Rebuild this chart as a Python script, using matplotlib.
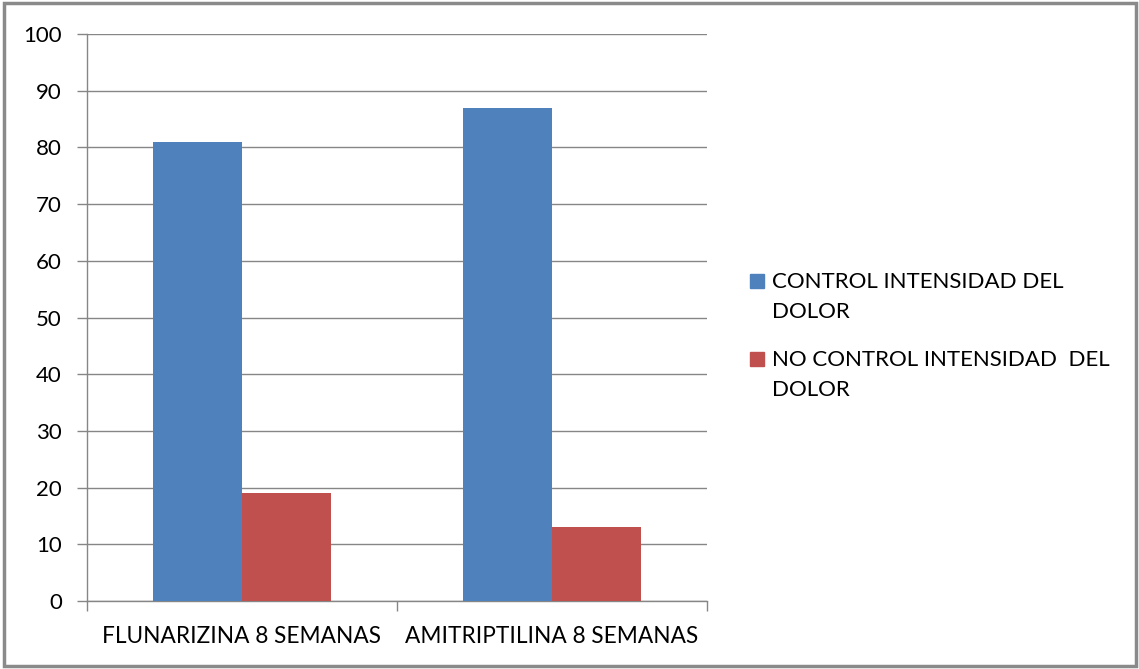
import matplotlib
matplotlib.use("Agg")
import matplotlib.pyplot as plt
from matplotlib.patches import Rectangle
import numpy as np

grupos = ["FLUNARIZINA 8 SEMANAS", "AMITRIPTILINA 8 SEMANAS"]
series = ["CONTROL INTENSIDAD DEL\nDOLOR", "NO CONTROL INTENSIDAD  DEL\nDOLOR"]
control = [81, 87]
no_control = [19, 13]
colores = ["#4F81BD", "#C0504D"]

plt.rcParams['font.family'] = ['Lato', 'DejaVu Sans']
gris = "#868686"

fig = plt.figure(figsize=(11.39, 6.69), dpi=100)
ax = fig.add_axes([87 / 1139, 1 - 601 / 669, 620 / 1139, 567 / 669])

x = np.arange(len(grupos))
ancho = 0.287
ax.bar(x - ancho / 2, control, ancho, color=colores[0], zorder=3)
ax.bar(x + ancho / 2, no_control, ancho, color=colores[1], zorder=3)

ax.set_xlim(-0.5, len(grupos) - 0.5)
ax.set_ylim(0, 100)
ax.set_yticks(range(0, 101, 10))
ax.yaxis.grid(True, color=gris, linewidth=1, zorder=0)

ax.set_xticks(x)
ax.set_xticklabels(grupos, fontsize=16.3)
ax.set_xticks(np.arange(-0.5, len(grupos), 1), minor=True)
ax.tick_params(axis='x', which='major', length=0, pad=18)
ax.tick_params(axis='x', which='minor', length=7, color=gris, width=1)
ax.tick_params(axis='y', length=7, color=gris, width=1, labelsize=16, pad=11)

for lado in ("top", "right"):
    ax.spines[lado].set_visible(False)
for lado in ("left", "bottom"):
    ax.spines[lado].set_color(gris)
    ax.spines[lado].set_linewidth(1)

# leyenda a mano: cuadro alineado con la primera linea del texto
for i, (etiqueta, color) in enumerate(zip(series, colores)):
    y_px = 281 + i * 78
    fig.patches.append(Rectangle((750 / 1139, 1 - (y_px + 7) / 669), 14 / 1139, 14 / 669,
                                 transform=fig.transFigure, color=color))
    fig.text(772 / 1139, 1 - (y_px - 9) / 669, etiqueta, fontsize=16, va='top',
             linespacing=1.65)

# marco exterior del grafico
fig.patches.append(Rectangle((4 / 1139, 3 / 669), 1132 / 1139, 663 / 669,
                             transform=fig.transFigure, fill=False,
                             edgecolor="#8a8a8a", linewidth=2.5))

fig.savefig("out.png", dpi=100)
